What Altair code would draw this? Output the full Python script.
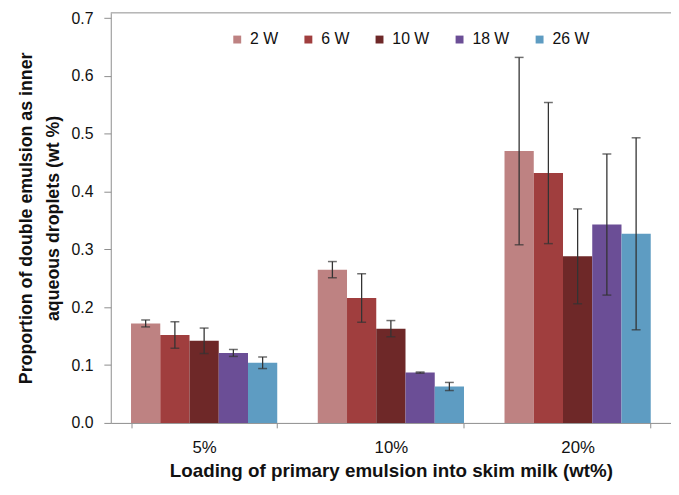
import altair as alt
import pandas as pd

loadings = ["5%", "10%", "20%"]
series = ["2 W", "6 W", "10 W", "18 W", "26 W"]
colors = ["#BE8282", "#A03E3E", "#6E2828", "#6B4E96", "#5E9CC2"]

means = {
    "5%":  [0.172, 0.152, 0.142, 0.121, 0.104],
    "10%": [0.265, 0.216, 0.163, 0.087, 0.063],
    "20%": [0.470, 0.432, 0.288, 0.343, 0.327],
}
errs = {
    "5%":  [0.006, 0.023, 0.022, 0.006, 0.010],
    "10%": [0.014, 0.042, 0.014, 0.001, 0.007],
    "20%": [0.162, 0.122, 0.082, 0.122, 0.166],
}
y_ticks = [0, 0.1, 0.2, 0.3, 0.4, 0.5, 0.6, 0.7]

rows = []
for ld in loadings:
    for s, m, e in zip(series, means[ld], errs[ld]):
        rows.append({"loading": ld, "series": s, "value": m, "lo": m - e, "hi": m + e})
df = pd.DataFrame(rows)

FONT = "Liberation Sans"
Y_MAX = 0.709

x = alt.X("loading:N", sort=loadings,
          scale=alt.Scale(paddingInner=0.217, paddingOuter=0.1085),
          axis=alt.Axis(title="Loading of primary emulsion into skim milk (wt%)",
                        labelAngle=0, tickBand="extent", tickSize=5,
                        labelFontSize=17, titleFontSize=19,
                        labelPadding=12, titlePadding=6))
xo = alt.XOffset("series:N", sort=series, scale=alt.Scale(paddingInner=0, paddingOuter=0))
y_scale = alt.Scale(domain=[0, Y_MAX], nice=False)

bars = alt.Chart(df).mark_bar().encode(
    x=x,
    xOffset=xo,
    y=alt.Y("value:Q", scale=y_scale,
            axis=alt.Axis(title=["Proportion of double emulsion as inner", "aqueous droplets (wt %)"],
                          format=".1f", values=y_ticks,
                          grid=False, tickSize=7, labelPadding=11, titlePadding=9,
                          labelFontSize=16, titleFontSize=18, titleLineHeight=27)),
    color=alt.Color("series:N", sort=series,
                    scale=alt.Scale(domain=series, range=colors),
                    legend=alt.Legend(title=None, orient="none", direction="horizontal",
                                      legendX=120, legendY=19, symbolType="square",
                                      symbolSize=64, symbolStrokeWidth=0, labelOffset=5,
                                      columnPadding=22, labelFontSize=16)),
)

rules = alt.Chart(df).mark_rule(color="#333333", strokeWidth=1.3).encode(
    x=alt.X("loading:N", sort=loadings),
    xOffset=xo,
    y=alt.Y("lo:Q", scale=y_scale),
    y2="hi:Q",
)
caps_lo = alt.Chart(df).mark_tick(color="#333333", size=9, thickness=1.5, orient="horizontal").encode(
    x=alt.X("loading:N", sort=loadings), xOffset=xo, y=alt.Y("lo:Q", scale=y_scale))
caps_hi = alt.Chart(df).mark_tick(color="#333333", size=9, thickness=1.5, orient="horizontal").encode(
    x=alt.X("loading:N", sort=loadings), xOffset=xo, y=alt.Y("hi:Q", scale=y_scale))

top_line = alt.Chart(pd.DataFrame({"v": [Y_MAX]})).mark_rule(color="#8c8c8c", strokeWidth=1).encode(
    y=alt.Y("v:Q", scale=y_scale))

chart = alt.layer(bars, rules, caps_lo, caps_hi, top_line).properties(
    width=567, height=415,
    autosize=alt.AutoSizeParams(type="none"),
    padding={"left": 104, "top": 2, "right": 0, "bottom": 68},
).configure_view(stroke=None).configure_axis(
    labelFont=FONT, titleFont=FONT,
    titleFontWeight="bold", labelColor="#111111", titleColor="#111111",
    domainColor="#8c8c8c", tickColor="#8c8c8c",
).configure_legend(labelFont=FONT, labelColor="#111111")

chart.save("out.html", embed_options={"renderer": "svg", "actions": False})
